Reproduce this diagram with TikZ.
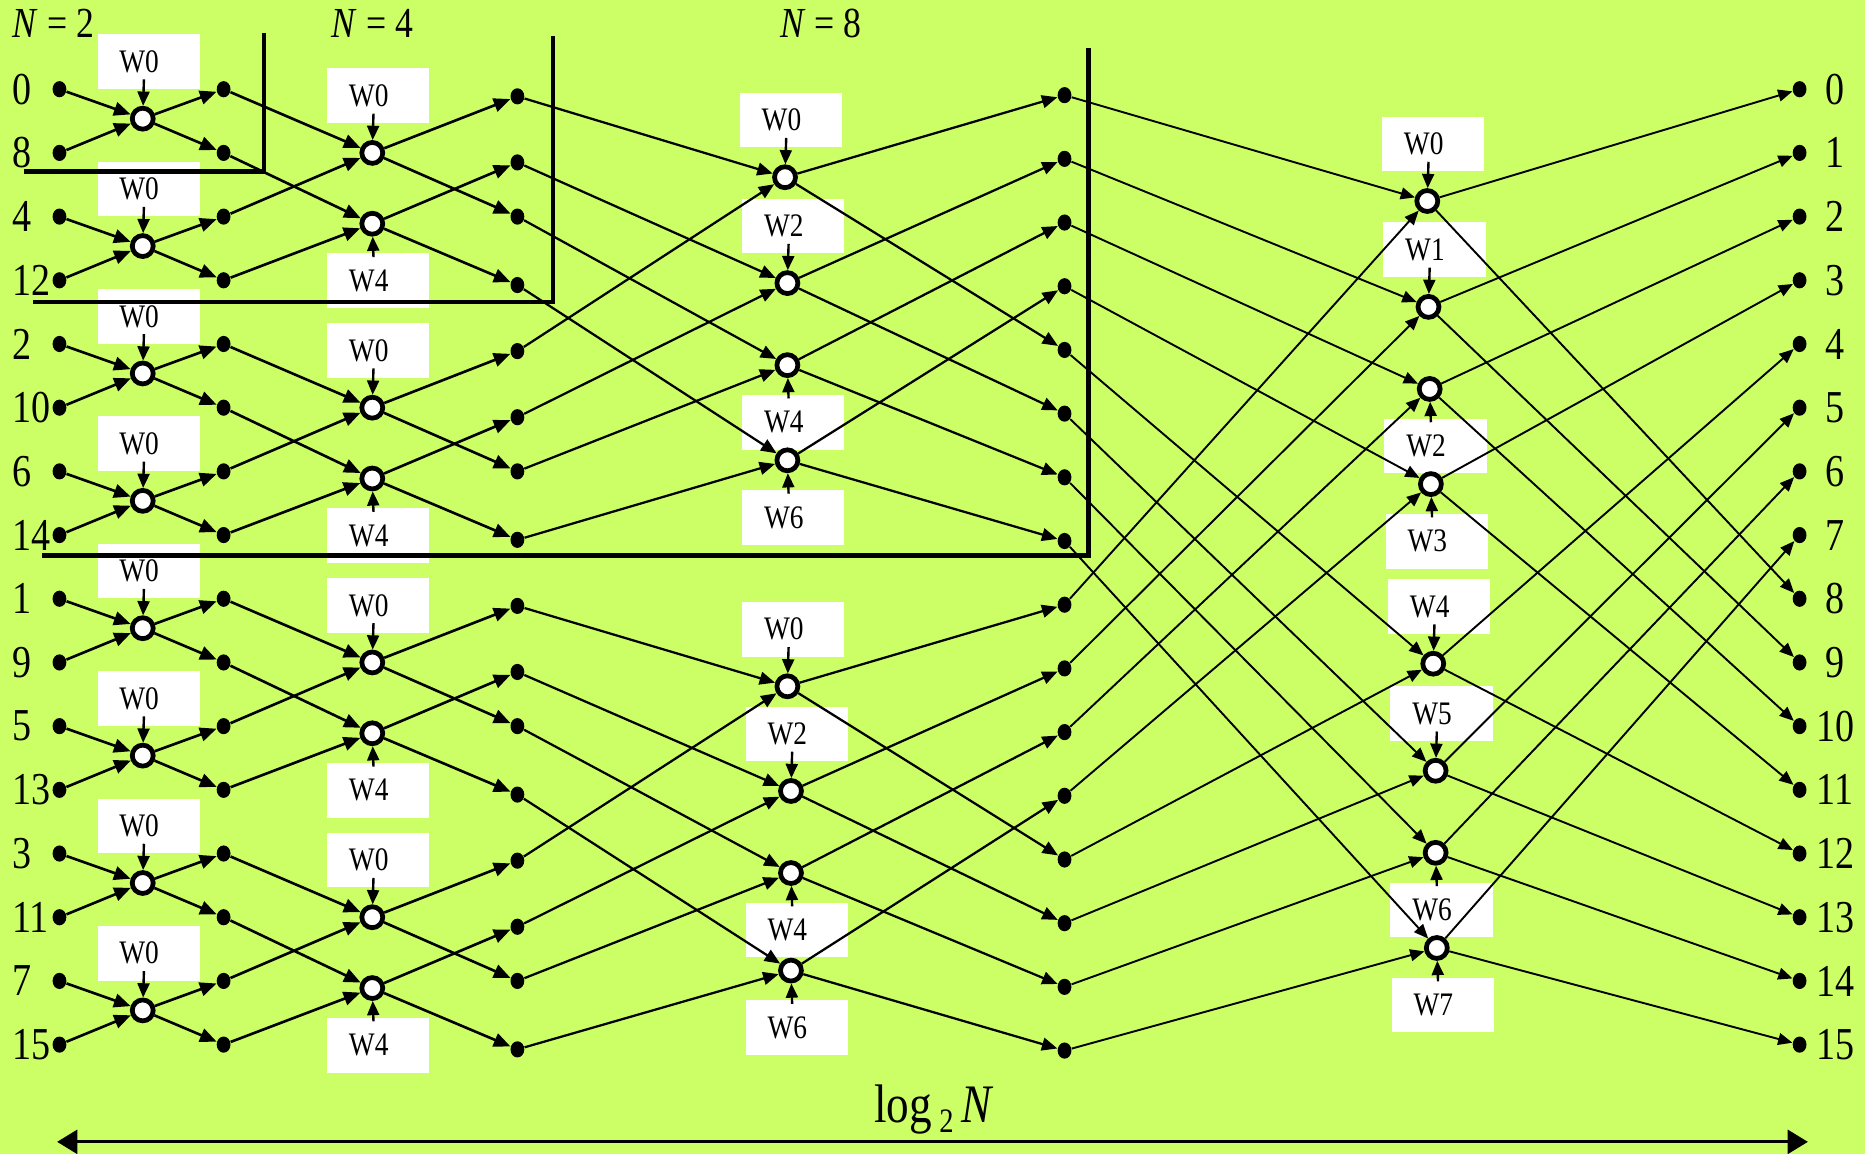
\documentclass[tikz,border=0pt]{standalone}
\usepackage{graphicx}
\usepackage{fontspec}
\setmainfont{Liberation Serif}
\usetikzlibrary{arrows.meta,shapes.geometric}
\definecolor{bgc}{HTML}{CCFF66}
\pgfdeclarelayer{bgl}
\pgfdeclarelayer{boxl}
\pgfdeclarelayer{topl}
\pgfsetlayers{bgl,boxl,main,topl}
\newcommand\vst[1]{\scalebox{1}[1.2]{#1}}
\tikzset{
  fdot/.style={ellipse,fill=black,inner sep=0pt,minimum width=5.8pt,minimum height=6.8pt},
  bcirc/.style={circle,draw=black,line width=2pt,fill=white,inner sep=0pt,minimum size=8.8pt},
  wbox/.style={fill=white,inner sep=0pt,minimum width=43pt,minimum height=23pt},
  wtext/.style={font=\fontsize{11.5}{12}\selectfont,inner sep=0pt},
  conn/.style={line width=1.1pt,-{Triangle[length=7pt,width=5.8pt]}},
  connc/.style={line width=0.95pt,-{Triangle[length=6.5pt,width=5.4pt]}},
  connd/.style={line width=0.8pt,-{Triangle[length=6pt,width=5pt]}},
  twarr/.style={line width=1pt,-{Triangle[length=6pt,width=5pt]}},
  rowlab/.style={font=\fontsize{16}{17}\selectfont,inner sep=0pt},
  nlab/.style={font=\fontsize{15}{16}\selectfont,inner sep=0pt},
  seprule/.style={line width=2pt},
}
\newcommand\mkbfly[5]{%
  \begin{pgfonlayer}{boxl}
  \node[wbox] (#1b) at ({#2+5},{#3-48*(#5)}) {};
  \node[wtext] (#1t) at ({#2-3},{#3-48*(#5)}) {\vst{#4}};
  \end{pgfonlayer}
  \begin{pgfonlayer}{topl}
  \node[bcirc] (#1) at (#2,#3) {};
  \end{pgfonlayer}
  \coordinate (#1a) at ({#2+1},{#3-(30.5*(#5)+2.5)});
  \draw[twarr] (#1a) -- (#1);
}
\begin{document}
\begin{tikzpicture}[x=0.5pt,y=-0.5pt,declare function={ry(\i)=75+53.55*\i;}]
\begin{pgfonlayer}{bgl}
\fill[bgc] (0,0) rectangle (1568,970);
\end{pgfonlayer}
\useasboundingbox (0,0) rectangle (1568,970);

% dots and row labels
\begin{pgfonlayer}{topl}
\foreach \lab [count=\i from 0] in {0,8,4,12,2,10,6,14,1,9,5,13,3,11,7,15} {
  \node[fdot] (in\i) at (50,{ry(\i)}) {};
  \node[rowlab,anchor=west] (inl\i) at (10,{ry(\i)}) {\vst{\lab}};
}
\foreach \i in {0,...,15} {
  \node[fdot] (da\i) at (188,{ry(\i)}) {};
  \pgfmathtruncatemacro\mm{mod(\i,4)}
  \pgfmathsetmacro\off{{6,8,0,4}[\mm]}
  \node[fdot] (db\i) at (435,{ry(\i)+\off}) {};
  \node[fdot] (dc\i) at (895,{ry(\i)+5}) {};
  \node[fdot] (out\i) at (1513,{ry(\i)}) {};
  \node[rowlab] (outl\i) at (1543,{ry(\i)}) {\vst{\i}};
}
\end{pgfonlayer}

% stage 1 butterflies
\foreach \k in {0,...,7} {
  \pgfmathsetmacro\cy{ry(2*\k+0.5)-2}
  \mkbfly{sa\k}{120}{\cy}{W0}{1}
}
% stage 2 butterflies
\foreach \b in {0,...,3} {
  \pgfmathsetmacro\ya{ry(4*\b+1)}
  \pgfmathsetmacro\yb{ry(4*\b+2)+6}
  \pgfmathtruncatemacro\na{2*\b}
  \pgfmathtruncatemacro\nb{2*\b+1}
  \mkbfly{sb\na}{313}{\ya}{W0}{1}
  \mkbfly{sb\nb}{313}{\yb}{W4}{-1}
}
% stage 3 butterflies
\foreach \k/\yy/\xx/\lab/\dir in {0/149/660/W0/1, 1/238/662/W2/1, 2/307/662/W4/-1, 3/387/662/W6/-1, 4/577/662/W0/1, 5/665/665/W2/1, 6/734/665/W4/-1, 7/816/665/W6/-1} {
  \mkbfly{sc\k}{\xx}{\yy}{\lab}{\dir}
}
% stage 4 butterflies
\foreach \k/\yy/\xx/\lab/\dir in {0/169/1200/W0/1, 1/258/1201/W1/1, 2/327/1202/W2/-1, 3/407/1203/W3/-1, 4/558/1205/W4/1, 5/648/1207/W5/1, 6/717/1207/W6/-1, 7/797/1208/W7/-1} {
  \mkbfly{sd\k}{\xx}{\yy}{\lab}{\dir}
}

% connectors stage 1
\foreach \k in {0,...,7} {
  \pgfmathtruncatemacro\ra{2*\k}
  \pgfmathtruncatemacro\rb{2*\k+1}
  \draw[conn] (in\ra) -- (sa\k);
  \draw[conn] (in\rb) -- (sa\k);
  \draw[conn] (sa\k) -- (da\ra);
  \draw[conn] (sa\k) -- (da\rb);
}
% connectors stage 2
\foreach \b in {0,...,3} {
  \pgfmathtruncatemacro\ra{4*\b}
  \pgfmathtruncatemacro\rb{4*\b+1}
  \pgfmathtruncatemacro\rcc{4*\b+2}
  \pgfmathtruncatemacro\rdd{4*\b+3}
  \pgfmathtruncatemacro\na{2*\b}
  \pgfmathtruncatemacro\nb{2*\b+1}
  \draw[conn] (da\ra) -- (sb\na);
  \draw[conn] (da\rcc) -- (sb\na);
  \draw[conn] (da\rb) -- (sb\nb);
  \draw[conn] (da\rdd) -- (sb\nb);
  \draw[conn] (sb\na) -- (db\ra);
  \draw[conn] (sb\na) -- (db\rcc);
  \draw[conn] (sb\nb) -- (db\rb);
  \draw[conn] (sb\nb) -- (db\rdd);
}
% connectors stage 3
\foreach \n in {0,...,7} {
  \pgfmathtruncatemacro\ppa{\n+4*int(\n/4)}
  \pgfmathtruncatemacro\qqa{\ppa+4}
  \draw[connc] (db\ppa) -- (sc\n);
  \draw[connc] (db\qqa) -- (sc\n);
  \draw[connc] (sc\n) -- (dc\ppa);
  \draw[connc] (sc\n) -- (dc\qqa);
}
% connectors stage 4
\foreach \k in {0,...,7} {
  \pgfmathtruncatemacro\kk{\k+8}
  \draw[connd] (dc\k) -- (sd\k);
  \draw[connd] (dc\kk) -- (sd\k);
  \draw[connd] (sd\k) -- (out\k);
  \draw[connd] (sd\k) -- (out\kk);
}

% block frames
\begin{pgfonlayer}{topl}
\draw[seprule] (222,28) -- (222,144) -- (20,144);
\draw[seprule] (465,30) -- (465,254) -- (28,254);
\draw[seprule] (915,40) -- (915,467) -- (35,467);
\end{pgfonlayer}

% headings
\node[nlab] (n2) at (45,20) {\vst{\textit{N} = 2}};
\node[nlab] (n4) at (313,20) {\vst{\textit{N} = 4}};
\node[nlab] (n8) at (690,20) {\vst{\textit{N} = 8}};

% bottom
\node[font=\fontsize{19}{20}\selectfont,inner sep=0pt] (logn) at (785,933) {\vst{log\,\raisebox{-0.4ex}{\fontsize{12}{12}\selectfont 2}\,\textit{N}}};
\coordinate (al) at (48,960);
\coordinate (ar) at (1520,960);
\draw[line width=1.3pt,{Triangle[length=8.5pt,width=10pt]}-{Triangle[length=8.5pt,width=10pt]}] (al) -- (ar);
\end{tikzpicture}
\end{document}
